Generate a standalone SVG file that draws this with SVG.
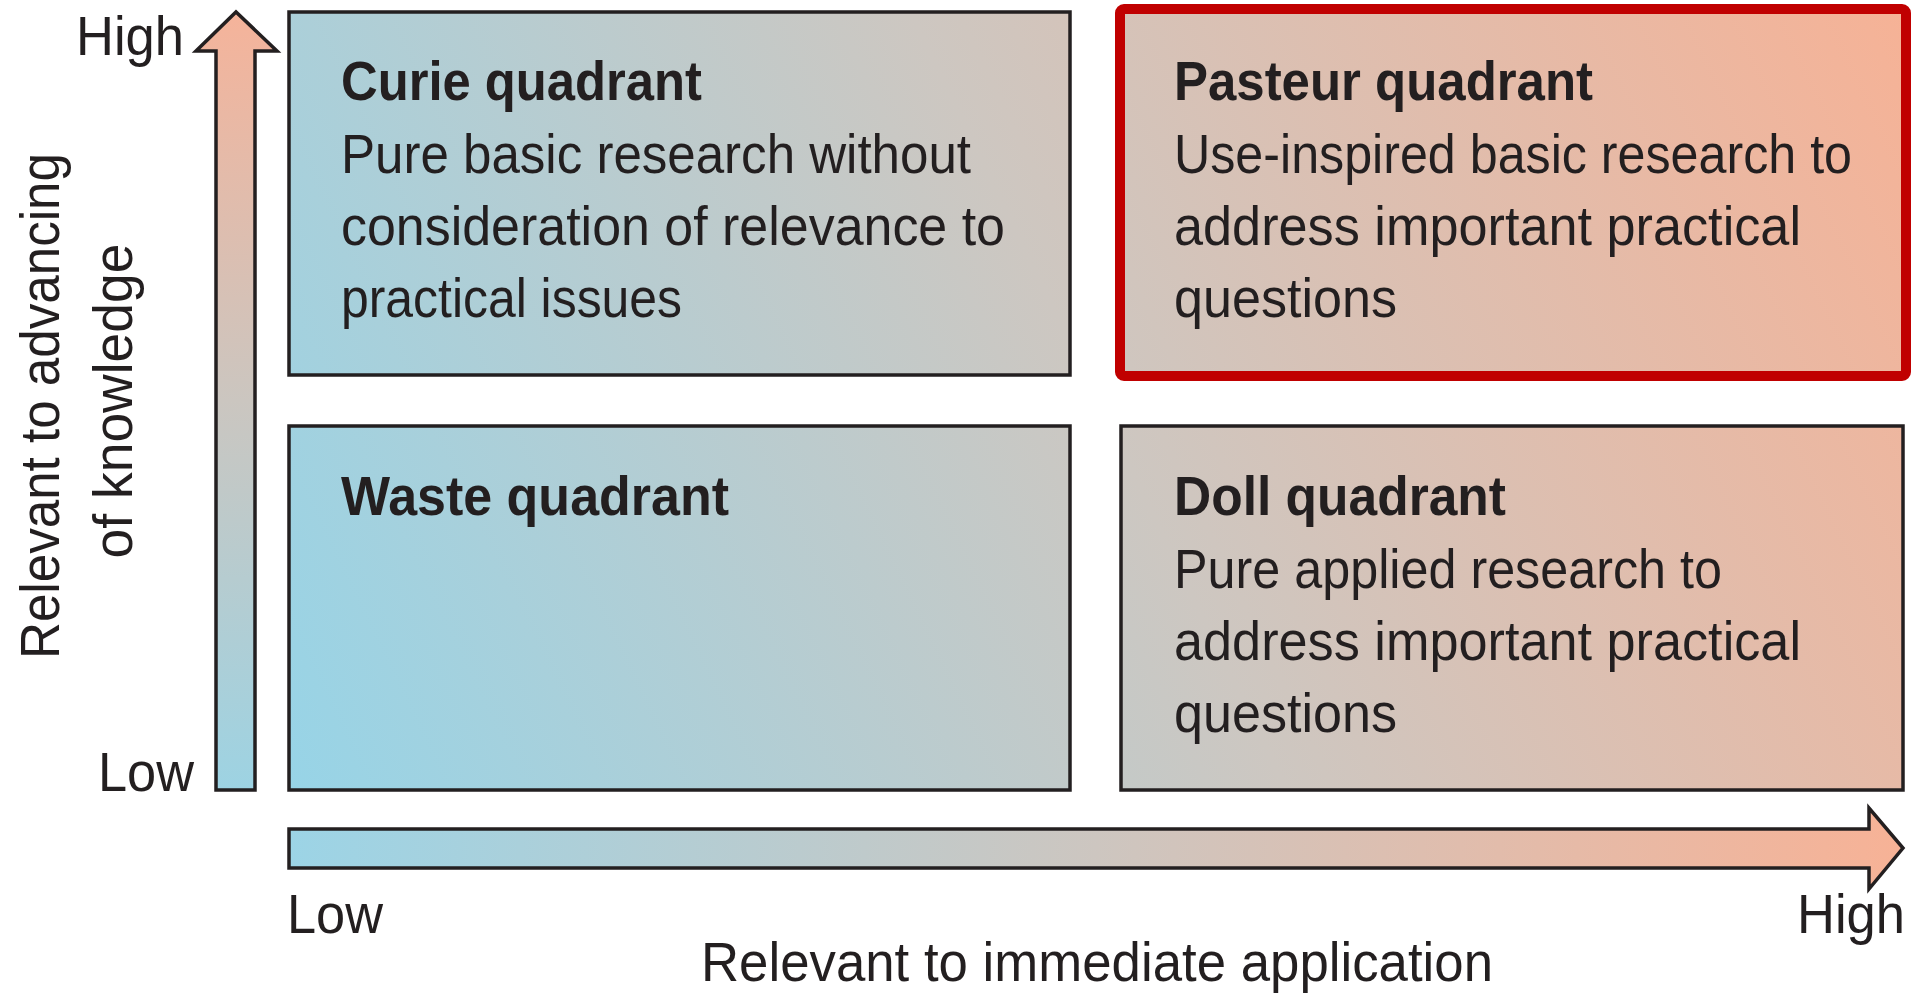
<svg xmlns="http://www.w3.org/2000/svg" width="1919" height="997" viewBox="0 0 1919 997">
<style>
text{font-family:"Liberation Sans","DejaVu Sans",sans-serif;fill:#231f20;font-size:55px;}
.t{font-weight:bold;}
.box{stroke:#231f20;stroke-width:3.5;fill:url(#gBox);}
.arr{stroke:#231f20;stroke-width:3.5;stroke-linejoin:miter;}
</style>
<defs>
<linearGradient id="gBox" gradientUnits="userSpaceOnUse" x1="289" y1="790" x2="1906" y2="9">
<stop offset="0" stop-color="#97d4e7"/>
<stop offset="0.5" stop-color="#cdc7c1"/>
<stop offset="1" stop-color="#f6b296"/>
</linearGradient>
<linearGradient id="gV" gradientUnits="userSpaceOnUse" x1="0" y1="790" x2="0" y2="12">
<stop offset="0" stop-color="#9dd3e3"/>
<stop offset="0.5" stop-color="#cbc6c0"/>
<stop offset="1" stop-color="#f5b39a"/>
</linearGradient>
<linearGradient id="gH" gradientUnits="userSpaceOnUse" x1="289" y1="0" x2="1903" y2="0">
<stop offset="0" stop-color="#9cd4e6"/>
<stop offset="0.5" stop-color="#cdc6c0"/>
<stop offset="1" stop-color="#f7b296"/>
</linearGradient>
</defs>
<rect width="1919" height="997" fill="#fff"/>
<g id="connectors">
<path class="arr" fill="url(#gV)" d="M216,790 L216,51 L196,51 L236,12 L277,51 L255,51 L255,790 Z"/>
<path class="arr" fill="url(#gH)" d="M289,829 L1869,829 L1869,808 L1903,848 L1869,889 L1869,868 L289,868 Z"/>
</g>
<g id="axis-labels">
<text x="184" y="55" text-anchor="end" textLength="108" lengthAdjust="spacingAndGlyphs">High</text>
<text x="194" y="791" text-anchor="end" textLength="96" lengthAdjust="spacingAndGlyphs">Low</text>
<text x="287" y="933" textLength="96" lengthAdjust="spacingAndGlyphs">Low</text>
<text x="1905" y="933" text-anchor="end" textLength="108" lengthAdjust="spacingAndGlyphs">High</text>
<text x="1097" y="981" text-anchor="middle" textLength="792" lengthAdjust="spacingAndGlyphs">Relevant to immediate application</text>
<text transform="translate(59,406) rotate(-90)" text-anchor="middle" textLength="506" lengthAdjust="spacingAndGlyphs">Relevant to advancing</text>
<text transform="translate(132,401) rotate(-90)" text-anchor="middle" textLength="315" lengthAdjust="spacingAndGlyphs">of knowledge</text>
</g>
<g id="curie">
<rect class="box" x="289" y="12" width="781" height="363"/>
<text class="t" x="341" y="100" textLength="361" lengthAdjust="spacingAndGlyphs">Curie quadrant</text>
<text x="341" y="173" textLength="630" lengthAdjust="spacingAndGlyphs">Pure basic research without</text>
<text x="341" y="245" textLength="664" lengthAdjust="spacingAndGlyphs">consideration of relevance to</text>
<text x="341" y="317" textLength="341" lengthAdjust="spacingAndGlyphs">practical issues</text>
</g>
<g id="pasteur">
<rect x="1120" y="9" width="786" height="367" rx="4" fill="url(#gBox)" stroke="#c00000" stroke-width="10"/>
<text class="t" x="1174" y="100" textLength="419" lengthAdjust="spacingAndGlyphs">Pasteur quadrant</text>
<text x="1174" y="173" textLength="678" lengthAdjust="spacingAndGlyphs">Use-inspired basic research to</text>
<text x="1174" y="245" textLength="627" lengthAdjust="spacingAndGlyphs">address important practical</text>
<text x="1174" y="317" textLength="223" lengthAdjust="spacingAndGlyphs">questions</text>
</g>
<g id="waste">
<rect class="box" x="289" y="426" width="781" height="364"/>
<text class="t" x="341" y="515" textLength="388" lengthAdjust="spacingAndGlyphs">Waste quadrant</text>
</g>
<g id="doll">
<rect class="box" x="1121" y="426" width="782" height="364"/>
<text class="t" x="1174" y="515" textLength="332" lengthAdjust="spacingAndGlyphs">Doll quadrant</text>
<text x="1174" y="588" textLength="548" lengthAdjust="spacingAndGlyphs">Pure applied research to</text>
<text x="1174" y="660" textLength="627" lengthAdjust="spacingAndGlyphs">address important practical</text>
<text x="1174" y="732" textLength="223" lengthAdjust="spacingAndGlyphs">questions</text>
</g>
</svg>
